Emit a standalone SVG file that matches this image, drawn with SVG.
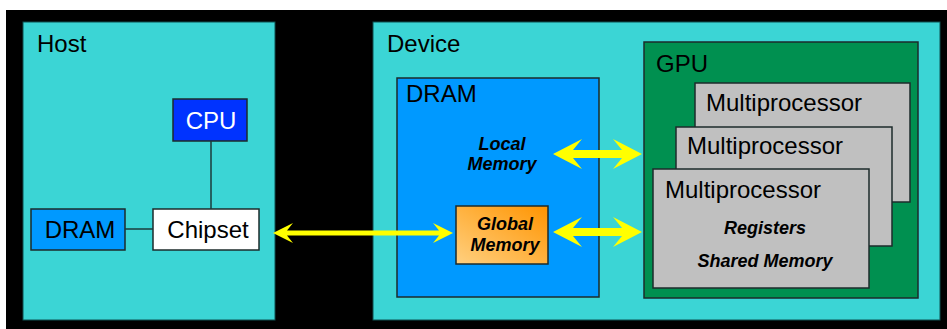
<svg xmlns="http://www.w3.org/2000/svg" width="947" height="329" viewBox="0 0 947 329">
  <style>
    .lbl { font-family: "Liberation Sans", Arial, sans-serif; font-size: 24px; fill: #000; }
    .em { font-family: "Liberation Sans", Arial, sans-serif; font-size: 18px; font-weight: bold; font-style: italic; fill: #000; text-anchor: middle; }
    .box { stroke: #1d2b2b; stroke-width: 1.5; }
    .panel { fill: #3bd5d5; stroke: #0f5050; stroke-width: 1; }
    .mp { fill: #c0c0c0; stroke: #1d2b2b; stroke-width: 1.5; }
    .wire { stroke: #1d3a3a; stroke-width: 1.5; fill: none; }
    .arrow { fill: #ffff00; }
  </style>
  <defs>
    <linearGradient id="gmem" x1="1" y1="0" x2="0" y2="1">
      <stop offset="0" stop-color="#ff9400"/>
      <stop offset="1" stop-color="#ffd080"/>
    </linearGradient>
  </defs>

  <!-- backdrop -->
  <rect x="0" y="0" width="947" height="329" fill="#ffffff"/>
  <rect x="6" y="10" width="941" height="319" fill="#000000"/>

  <!-- host side -->
  <g id="host">
    <rect class="panel" x="23" y="22" width="252" height="298"/>
    <text class="lbl" x="37" y="52">Host</text>
  </g>
  <g id="host-cpu">
    <rect class="box" x="173" y="99" width="74" height="42" fill="#0033ff"/>
    <text class="lbl" x="211" y="129" text-anchor="middle" style="fill:#ffffff">CPU</text>
  </g>
  <g id="host-dram">
    <rect class="box" x="31" y="209" width="94" height="41" fill="#0099ff"/>
    <text class="lbl" x="80" y="238" text-anchor="middle">DRAM</text>
  </g>
  <g id="host-chipset">
    <rect class="box" x="153" y="209" width="106" height="41" fill="#ffffff"/>
    <text class="lbl" x="208" y="238" text-anchor="middle">Chipset</text>
  </g>

  <!-- device side -->
  <g id="device">
    <rect class="panel" x="373" y="22" width="567" height="298"/>
    <text class="lbl" x="387" y="52">Device</text>
  </g>
  <g id="device-dram">
    <rect class="box" x="397" y="78" width="202" height="219" fill="#0099ff"/>
    <text class="lbl" x="406" y="102">DRAM</text>
  </g>
  <g id="local-memory">
    <text class="em" x="502" y="150">Local</text>
    <text class="em" x="502" y="170">Memory</text>
  </g>
  <g id="global-memory">
    <rect class="box" x="456" y="206" width="92" height="58" fill="url(#gmem)"/>
    <text class="em" x="505" y="230">Global</text>
    <text class="em" x="505" y="251">Memory</text>
  </g>
  <g id="gpu">
    <rect class="box" x="644" y="42" width="274" height="256" fill="#009050"/>
    <text class="lbl" x="656" y="72">GPU</text>
  </g>
  <g id="mp-back">
    <rect class="mp" x="695" y="83" width="215" height="119"/>
    <text class="lbl" x="706" y="111">Multiprocessor</text>
  </g>
  <g id="mp-middle">
    <rect class="mp" x="676" y="127" width="216" height="119"/>
    <text class="lbl" x="687" y="154">Multiprocessor</text>
  </g>
  <g id="mp-front">
    <rect class="mp" x="653" y="169" width="216" height="119"/>
    <text class="lbl" x="665" y="198">Multiprocessor</text>
    <text class="em" x="765" y="234">Registers</text>
    <text class="em" x="765" y="267">Shared Memory</text>
  </g>

  <!-- connectors -->
  <g id="connectors">
    <line class="wire" x1="211" y1="141" x2="211" y2="209"/>
    <line class="wire" x1="125" y1="229" x2="153" y2="229"/>
    <!-- host chipset to global memory -->
    <path class="arrow" d="M273,233 L293,223 L287,230.5 L439,230.5 L433,223 L453,233 L433,243 L439,235.5 L287,235.5 L293,243 Z"/>
    <!-- local memory to GPU -->
    <path class="arrow" d="M553,154 L582,139 L573,150 L622,150 L613,139 L642,154 L613,169 L622,158 L573,158 L582,169 Z"/>
    <!-- global memory to GPU -->
    <path class="arrow" d="M553,232 L582,217 L573,228 L622,228 L613,217 L642,232 L613,247 L622,236 L573,236 L582,247 Z"/>
  </g>
</svg>
